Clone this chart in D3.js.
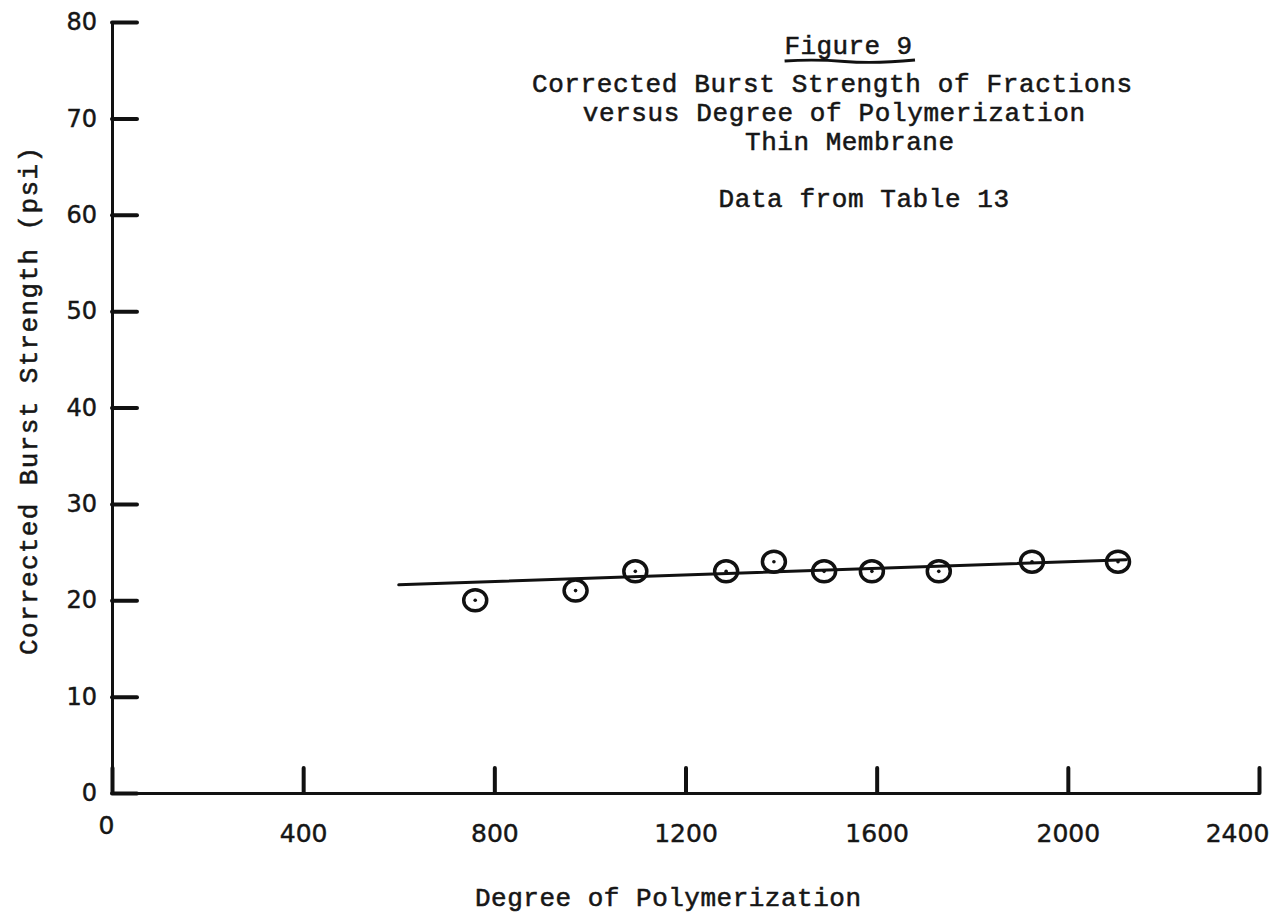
<!DOCTYPE html>
<html>
<head>
<meta charset="utf-8">
<script src="https://cdn.jsdelivr.net/npm/d3@7"></script>
<style>
  html, body { margin: 0; padding: 0; background: #fff; }
  svg { display: block; }
  .typed { font-family: "Liberation Mono", "DejaVu Sans Mono", monospace; fill: #161616; stroke: #161616; stroke-width: 0.55; }
  .tick text { font-family: "DejaVu Sans", sans-serif; fill: #161616; stroke: #161616; stroke-width: 0.45; }
</style>
</head>
<body>
<svg id="chart" width="1285" height="918"></svg>
<script>
// Degree of polymerization of each fraction and its corrected burst strength (psi)
const degreeOfPolymerization = [760, 970, 1095, 1285, 1385, 1490, 1590, 1730, 1925, 2105];
const burstStrength          = [20, 21, 23, 23, 24, 23, 23, 23, 24, 24];

// Fitted straight line through the fractions (end points)
const fitDP       = [600, 2122];
const fitStrength = [21.6, 24.2];

const xTickValues = [0, 400, 800, 1200, 1600, 2000, 2400];
const yTickValues = [0, 10, 20, 30, 40, 50, 60, 70, 80];

const figureLabel = "Figure 9";
const titleLines = [
  "Corrected Burst Strength of Fractions",
  "versus Degree of Polymerization",
  "Thin Membrane",
  "Data from Table 13"
];
const xTitle = "Degree of Polymerization";
const yTitle = "Corrected Burst Strength (psi)";

const svg = d3.select("#chart");
const pitch = 16.3;           // typewriter character pitch in px

const x = d3.scaleLinear().domain([0, 2400]).range([112, 1259]);
const y = d3.scaleLinear().domain([0, 80]).range([793, 22]);

// Y axis: ticks point inward toward the plot
const yAxis = svg.append("g")
  .attr("transform", `translate(${x(0)},0)`)
  .call(d3.axisLeft(y).tickValues(yTickValues).tickFormat(d3.format("d"))
    .tickSizeInner(-25).tickSizeOuter(0).tickPadding(15));

// X axis: ticks point upward
const xAxis = svg.append("g")
  .attr("transform", `translate(0,${y(0)})`)
  .call(d3.axisBottom(x).tickValues(xTickValues).tickFormat(d3.format("d"))
    .tickSizeInner(-25).tickSizeOuter(0).tickPadding(31));

[yAxis, xAxis].forEach(g => {
  g.select(".domain").attr("stroke", "#111").attr("stroke-width", 3);
  g.selectAll(".tick line").attr("stroke", "#111").attr("stroke-width", 4).attr("stroke-linecap", "round");
});
yAxis.selectAll(".tick text").attr("font-size", 24);
xAxis.selectAll(".tick text").attr("font-size", 25);

// Hand-lettered placement: origin label sits left, last label pulled in from the edge
xAxis.selectAll(".tick").filter(d => d === 0).select("text").attr("dx", -6).attr("y", 23);
xAxis.selectAll(".tick").filter(d => d === 2400).select("text").attr("dx", -22);

// Fitted line
svg.append("line")
  .attr("x1", x(fitDP[0])).attr("y1", y(fitStrength[0]))
  .attr("x2", x(fitDP[1])).attr("y2", y(fitStrength[1]))
  .attr("stroke", "#111").attr("stroke-width", 3).attr("stroke-linecap", "round");

// Data points: open circles with a centre dot
const pts = degreeOfPolymerization.map((d, i) => ({ dp: d, s: burstStrength[i] }));
const marks = svg.append("g").selectAll("g.pt").data(pts).join("g")
  .attr("class", "pt")
  .attr("transform", d => `translate(${x(d.dp)},${y(d.s)})`);
marks.append("ellipse")
  .attr("rx", 11.5).attr("ry", 10.5)
  .attr("fill", "none").attr("stroke", "#111").attr("stroke-width", 3.5);
marks.append("circle")
  .attr("r", 1.8).attr("fill", "#111");

// Typed heading, each line right-ended where the typist stopped
function typed(text, xEnd, yBase) {
  const w = text.length * pitch;
  svg.append("text")
    .attr("class", "typed")
    .attr("x", xEnd - w).attr("y", yBase)
    .attr("font-size", 26)
    .attr("textLength", w - 3).attr("lengthAdjust", "spacing")
    .text(text);
  return xEnd - w;
}

const figStart = typed(figureLabel, 915, 54);
svg.append("path")
  .attr("d", `M${figStart},61 Q${figStart + 30},59 ${figStart + 60},61.5 T${915},60`)
  .attr("fill", "none").attr("stroke", "#111").attr("stroke-width", 2.8);

const titleEnds = [
  { x: 1135, y: 92 },
  { x: 1088, y: 121 },
  { x: 957,  y: 150 },
  { x: 1012, y: 207 }
];
titleLines.forEach((t, i) => typed(t, titleEnds[i].x, titleEnds[i].y));

// Axis titles
svg.append("text")
  .attr("class", "typed")
  .attr("x", 475).attr("y", 906)
  .attr("font-size", 26)
  .attr("textLength", 386).attr("lengthAdjust", "spacing")
  .text(xTitle);

svg.append("text")
  .attr("class", "typed")
  .attr("transform", "translate(37,655) rotate(-90)")
  .attr("font-size", 26)
  .attr("textLength", 508).attr("lengthAdjust", "spacing")
  .text(yTitle);
</script>
</body>
</html>
